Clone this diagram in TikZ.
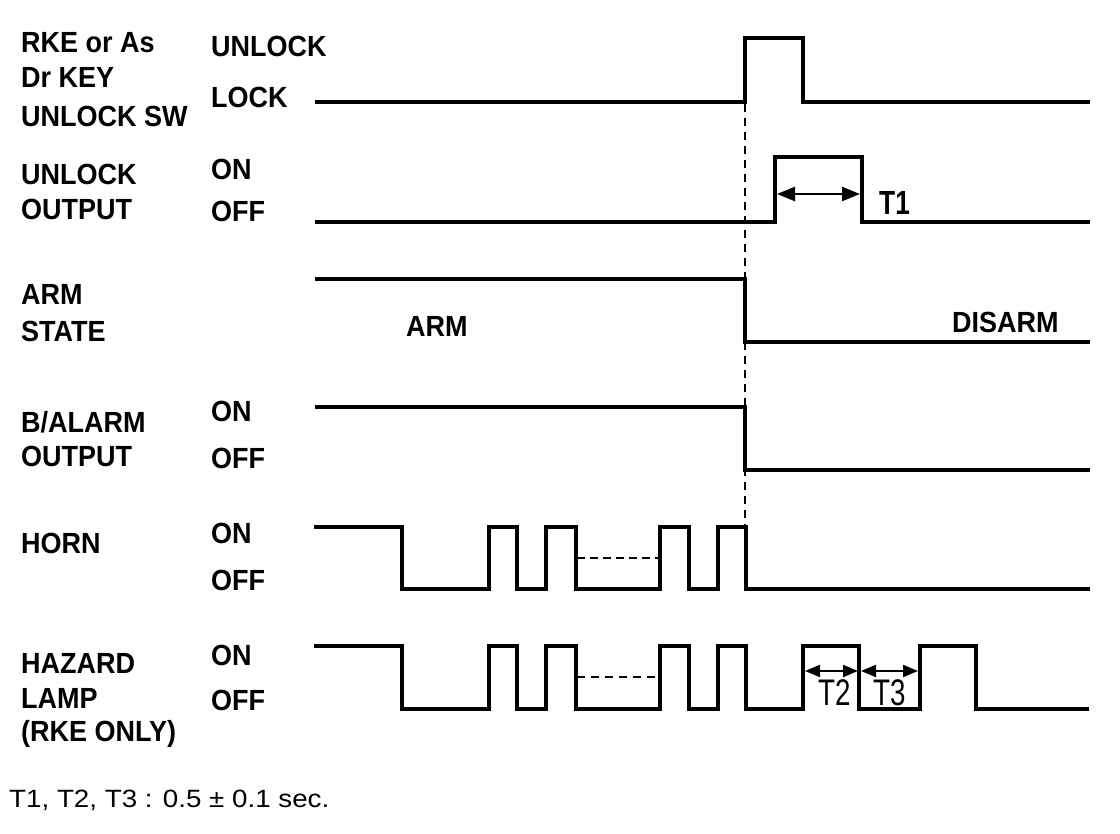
\documentclass[tikz,border=0pt]{standalone}
\usepackage{fontspec}
\setmainfont{Liberation Sans}
\usetikzlibrary{arrows.meta}
\tikzset{
  lbl/.style={font=\bfseries\fontsize{27}{27}\selectfont, anchor=base west, inner sep=0pt, yscale=1.08},
  tlbl/.style={font=\fontsize{37}{37}\selectfont, anchor=base west, inner sep=0pt, xscale=0.75},
  wave/.style={line width=4pt, line join=miter},
  hwave/.style={line width=3.5pt, line join=miter},
  guide/.style={line width=1.5pt, dash pattern=on 8pt off 6pt},
  gap/.style={line width=2.2pt, dash pattern=on 8pt off 5pt},
  dimA/.style={line width=2.5pt, {Triangle[length=18pt,width=14pt]}-{Triangle[length=18pt,width=14pt]}},
  dimB/.style={line width=2pt, {Triangle[length=15pt,width=12pt]}-{Triangle[length=15pt,width=12pt]}}
}
\begin{document}
\begin{tikzpicture}[x=1pt,y=-1pt]
\useasboundingbox (0,0) rectangle (1120,834);
% left labels
\node[lbl] (l1a) at (21,53) {RKE or As};
\node[lbl] (l1b) at (21,88) {Dr KEY};
\node[lbl] (l1c) at (21,127) {UNLOCK SW};
\node[lbl] (l2a) at (21,185) {UNLOCK};
\node[lbl] (l2b) at (21,220) {OUTPUT};
\node[lbl] (l3a) at (21,305) {ARM};
\node[lbl] (l3b) at (21,342) {STATE};
\node[lbl] (l4a) at (21,432) {B/ALARM};
\node[lbl] (l4b) at (21,467) {OUTPUT};
\node[lbl] (l5a) at (21,553) {HORN};
\node[lbl] (l6a) at (21,673) {HAZARD};
\node[lbl] (l6b) at (21,708) {LAMP};
\node[lbl] (l6c) at (21,741) {(RKE ONLY)};
% state labels
\node[lbl] (s1h) at (211,57) {UNLOCK};
\node[lbl] (s1l) at (211,108) {LOCK};
\node[lbl] (s2h) at (211,180) {ON};
\node[lbl] (s2l) at (211,222) {OFF};
\node[lbl] (s4h) at (211,422) {ON};
\node[lbl] (s4l) at (211,468) {OFF};
\node[lbl] (s5h) at (211,543) {ON};
\node[lbl] (s5l) at (211,590) {OFF};
\node[lbl] (s6h) at (211,665) {ON};
\node[lbl] (s6l) at (211,710) {OFF};
\node[lbl] (arm) at (406,337) {ARM};
\node[lbl] (disarm) at (952,333) {DISARM};
% guide line
\coordinate (g1) at (745,104);
\coordinate (g2) at (745,525);
\draw[guide] (g1) -- (g2);
% waveforms
\draw[wave] (315,102) -- (745,102) -- (745,38) -- (803,38) -- (803,102) -- (1090,102);
\draw[wave] (315,222) -- (775,222) -- (775,157) -- (862,157) -- (862,222) -- (1090,222);
\draw[wave] (315,279) -- (745,279) -- (745,342) -- (1090,342);
\draw[wave] (315,407) -- (745,407) -- (745,470) -- (1090,470);
\draw[hwave] (314,527) -- (402,527) -- (402,589) -- (489,589) -- (489,527) -- (517,527) -- (517,589)
  -- (546,589) -- (546,527) -- (576,527) -- (576,589) -- (660,589) -- (660,527) -- (689,527)
  -- (689,589) -- (718,589) -- (718,527) -- (746,527) -- (746,589) -- (1090,589);
\coordinate (hg1) at (577,558);
\coordinate (hg2) at (659,558);
\draw[gap] (hg1) -- (hg2);
\draw[hwave] (314,646) -- (402,646) -- (402,709) -- (489,709) -- (489,646) -- (517,646) -- (517,709)
  -- (546,709) -- (546,646) -- (576,646) -- (576,709) -- (660,709) -- (660,646) -- (689,646)
  -- (689,709) -- (718,709) -- (718,646) -- (746,646) -- (746,709) -- (803,709) -- (803,646)
  -- (859,646) -- (859,709) -- (920,709) -- (920,646) -- (976,646) -- (976,709) -- (1089,709);
\coordinate (zg1) at (577,677);
\coordinate (zg2) at (659,677);
\draw[guide] (zg1) -- (zg2);
% time arrows
\coordinate (t1a) at (777,194);
\coordinate (t1b) at (860,194);
\draw[dimA] (t1a) -- (t1b);
\node[lbl, font=\bfseries\fontsize{31}{31}\selectfont, xscale=0.85] (t1) at (879,215) {T1};
\coordinate (t2a) at (805,671);
\coordinate (t2b) at (858,671);
\draw[dimB] (t2a) -- (t2b);
\coordinate (t3a) at (861,671);
\coordinate (t3b) at (918,671);
\draw[dimB] (t3a) -- (t3b);
\node[tlbl] (t2) at (818,705) {T2};
\node[tlbl] (t3) at (873,705) {T3};
% footnote
\node[anchor=base west, inner sep=0pt, font=\fontsize{25}{25}\selectfont, xscale=1.11] (note) at (9,807) {T1, T2, T3 : 0.5 ± 0.1 sec.};
\end{tikzpicture}
\end{document}
